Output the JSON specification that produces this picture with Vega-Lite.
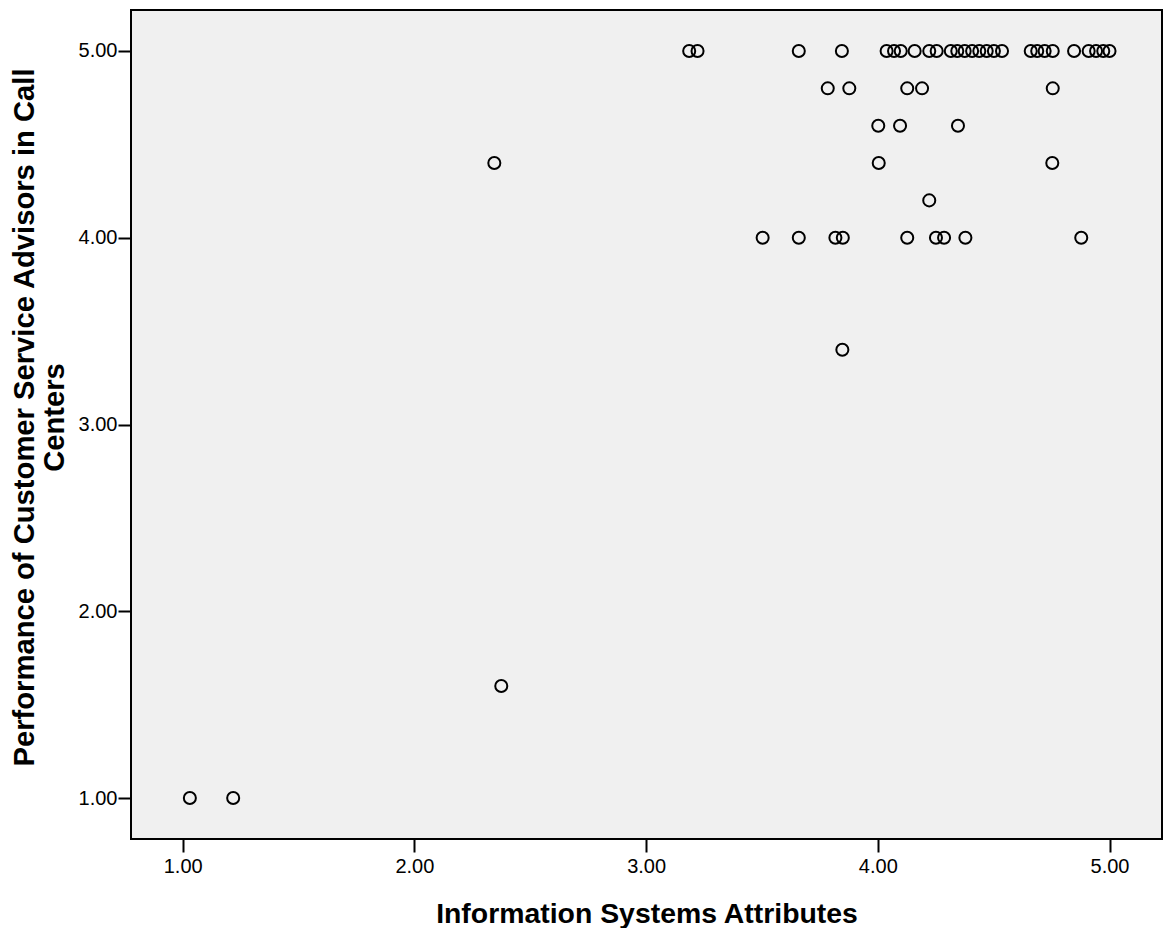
{
  "$schema": "https://vega.github.io/schema/vega-lite/v6.json",
  "autosize": {"type": "none"},
  "padding": {"left": 131, "top": 10, "right": 1, "bottom": 89},
  "width": 1031,
  "height": 829,
  "background": "white",
  "config": {
    "view": {"fill": "#f0f0f0", "stroke": "black", "strokeWidth": 2},
    "font": "Liberation Sans"
  },
  "data": {
    "values": [
      {"isa": 3.186, "perf": 5}, {"isa": 3.222, "perf": 5}, {"isa": 3.659, "perf": 5}, {"isa": 3.845, "perf": 5},
      {"isa": 4.038, "perf": 5}, {"isa": 4.07, "perf": 5}, {"isa": 4.099, "perf": 5}, {"isa": 4.159, "perf": 5},
      {"isa": 4.222, "perf": 5}, {"isa": 4.254, "perf": 5}, {"isa": 4.315, "perf": 5}, {"isa": 4.343, "perf": 5},
      {"isa": 4.375, "perf": 5}, {"isa": 4.407, "perf": 5}, {"isa": 4.438, "perf": 5}, {"isa": 4.47, "perf": 5},
      {"isa": 4.501, "perf": 5}, {"isa": 4.536, "perf": 5}, {"isa": 4.66, "perf": 5}, {"isa": 4.688, "perf": 5},
      {"isa": 4.72, "perf": 5}, {"isa": 4.755, "perf": 5}, {"isa": 4.847, "perf": 5}, {"isa": 4.91, "perf": 5},
      {"isa": 4.942, "perf": 5}, {"isa": 4.973, "perf": 5}, {"isa": 5.0, "perf": 5},
      {"isa": 3.784, "perf": 4.8}, {"isa": 3.877, "perf": 4.8}, {"isa": 4.127, "perf": 4.8}, {"isa": 4.191, "perf": 4.8}, {"isa": 4.755, "perf": 4.8},
      {"isa": 4.002, "perf": 4.6}, {"isa": 4.096, "perf": 4.6}, {"isa": 4.346, "perf": 4.6},
      {"isa": 2.345, "perf": 4.4}, {"isa": 4.004, "perf": 4.4}, {"isa": 4.753, "perf": 4.4},
      {"isa": 4.222, "perf": 4.2},
      {"isa": 3.503, "perf": 4}, {"isa": 3.659, "perf": 4}, {"isa": 3.817, "perf": 4}, {"isa": 3.849, "perf": 4},
      {"isa": 4.127, "perf": 4}, {"isa": 4.251, "perf": 4}, {"isa": 4.286, "perf": 4}, {"isa": 4.378, "perf": 4},
      {"isa": 4.878, "perf": 4},
      {"isa": 3.847, "perf": 3.4},
      {"isa": 2.375, "perf": 1.6},
      {"isa": 1.031, "perf": 1}, {"isa": 1.218, "perf": 1}
    ]
  },
  "mark": {"type": "point", "shape": "circle", "filled": false, "stroke": "black", "strokeWidth": 2, "size": 145, "opacity": 1},
  "encoding": {
    "x": {
      "field": "isa", "type": "quantitative",
      "scale": {"domain": [0.777, 5.2265], "nice": false, "zero": false},
      "axis": {
        "title": "Information Systems Attributes",
        "values": [1, 2, 3, 4, 5], "format": ".2f",
        "grid": false, "domain": false,
        "tickSize": 13, "tickWidth": 2, "tickColor": "black",
        "labelFontSize": 20, "labelColor": "black", "labelPadding": 4, "labelFont": "Liberation Sans",
        "titleFontSize": 28.4, "titleFontWeight": "bold", "titleColor": "black", "titleFont": "Liberation Sans",
        "titleBaseline": "alphabetic", "titleY": 83
      }
    },
    "y": {
      "field": "perf", "type": "quantitative",
      "scale": {"domain": [0.7805, 5.2195], "nice": false, "zero": false},
      "axis": {
        "title": ["Performance of Customer Service Advisors in Call", "Centers"],
        "values": [1, 2, 3, 4, 5], "format": ".2f",
        "grid": false, "domain": false,
        "tickSize": 13, "tickWidth": 2, "tickColor": "black",
        "labelFontSize": 20, "labelColor": "black", "labelPadding": 1, "labelFont": "Liberation Sans",
        "titleFontSize": 29.2, "titleFontWeight": "bold", "titleColor": "black", "titleFont": "Liberation Sans",
        "titleLineHeight": 30, "titleBaseline": "alphabetic", "titleX": -98, "titleY": 407, "titleAngle": -90
      }
    }
  }
}
